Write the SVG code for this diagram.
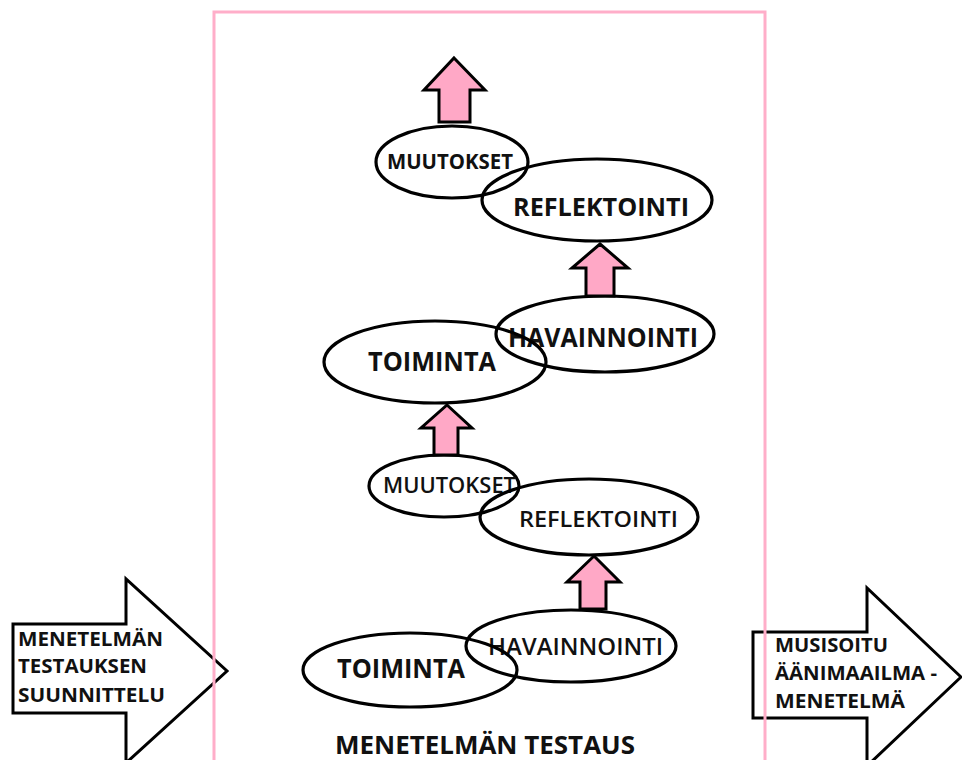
<svg xmlns="http://www.w3.org/2000/svg" width="962" height="760" viewBox="0 0 962 760">
<style>
  .bg{fill:#ffffff}
  .ell{fill:none;stroke:#000;stroke-width:3.2}
  .up{fill:#ffa8c6;stroke:#000;stroke-width:3;stroke-linejoin:miter}
  .big{fill:#ffffff;stroke:#000;stroke-width:3;stroke-linejoin:miter}
  .frame{fill:none;stroke:#ffaec9;stroke-width:3}
  text{font-family:"Open Sans","Liberation Sans",sans-serif;fill:#111;text-anchor:start}
  .b{font-weight:700}
  .s{font-weight:600}
</style>
<rect class="bg" x="0" y="0" width="962" height="760"/>

<g id="side-left">
  <polygon class="big" points="13,624 126,624 126,579 227,671 126,763 126,713 13,713"/>
  <text class="b" x="18" y="646" font-size="20" textLength="145" lengthAdjust="spacingAndGlyphs">MENETELMÄN</text>
  <text class="b" x="18" y="673" font-size="20" textLength="129" lengthAdjust="spacingAndGlyphs">TESTAUKSEN</text>
  <text class="b" x="18" y="702" font-size="20" textLength="147" lengthAdjust="spacingAndGlyphs">SUUNNITTELU</text>
</g>

<g id="side-right">
  <polygon class="big" points="753,632 867,632 867,588 961,677 867,766 867,718 753,718"/>
  <text class="b" x="775" y="652" font-size="20" textLength="113" lengthAdjust="spacingAndGlyphs">MUSISOITU</text>
  <text class="b" x="775" y="680" font-size="20" textLength="162" lengthAdjust="spacingAndGlyphs">ÄÄNIMAAILMA -</text>
  <text class="b" x="775" y="708" font-size="20" textLength="130" lengthAdjust="spacingAndGlyphs">MENETELMÄ</text>
</g>

<g id="frame">
  <rect class="frame" x="214" y="12" width="551" height="780"/>
  <text class="b" x="335" y="754" font-size="25" textLength="300" lengthAdjust="spacingAndGlyphs">MENETELMÄN TESTAUS</text>
</g>

<g id="muutokset-top">
  <ellipse class="ell" cx="452" cy="162" rx="76" ry="36"/>
  <text class="b" x="387" y="169" font-size="21" textLength="126" lengthAdjust="spacingAndGlyphs">MUUTOKSET</text>
</g>
<g id="reflektointi-top">
  <ellipse class="ell" cx="597" cy="200" rx="115" ry="41"/>
  <text class="b" x="513" y="216" font-size="25" textLength="176" lengthAdjust="spacingAndGlyphs">REFLEKTOINTI</text>
</g>
<g id="havainnointi-mid">
  <ellipse class="ell" cx="605" cy="334" rx="109" ry="38"/>
  <text class="b" x="508" y="347" font-size="26" textLength="190" lengthAdjust="spacingAndGlyphs">HAVAINNOINTI</text>
</g>
<g id="toiminta-mid">
  <ellipse class="ell" cx="435" cy="362" rx="111" ry="41"/>
  <text class="b" x="368" y="371" font-size="26" textLength="128" lengthAdjust="spacingAndGlyphs">TOIMINTA</text>
</g>
<g id="muutokset-low">
  <ellipse class="ell" cx="444" cy="486" rx="75" ry="31"/>
  <text class="s" x="383" y="493" font-size="21" textLength="133" lengthAdjust="spacingAndGlyphs">MUUTOKSET</text>
</g>
<g id="reflektointi-low">
  <ellipse class="ell" cx="589" cy="517" rx="109" ry="38"/>
  <text class="s" x="519" y="527" font-size="22" textLength="159" lengthAdjust="spacingAndGlyphs">REFLEKTOINTI</text>
</g>
<g id="havainnointi-low">
  <ellipse class="ell" cx="571" cy="646" rx="105" ry="36"/>
  <text class="s" x="488" y="655" font-size="24" textLength="175" lengthAdjust="spacingAndGlyphs">HAVAINNOINTI</text>
</g>
<g id="toiminta-low">
  <ellipse class="ell" cx="410" cy="670" rx="107" ry="37"/>
  <text class="b" x="337" y="678" font-size="27" textLength="128" lengthAdjust="spacingAndGlyphs">TOIMINTA</text>
</g>

<g id="connectors">
  <polygon class="up" points="454,58 485,90 470,90 470,122 439,122 439,90 424,90"/>
  <polygon class="up" points="600,244 628,268 614,268 614,296 586,296 586,268 572,268"/>
  <polygon class="up" points="447,405 472,428 458,428 458,455 434,455 434,428 421,428"/>
  <polygon class="up" points="594,556 620,582 606,582 606,609 580,609 580,582 567,582"/>
</g>
</svg>
